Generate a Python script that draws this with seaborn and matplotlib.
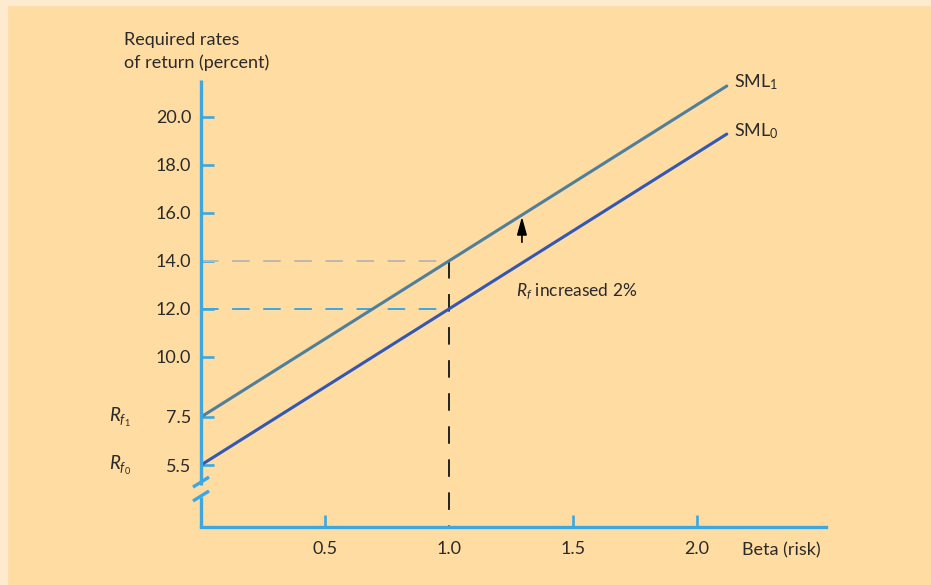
import numpy as np
import pandas as pd
import matplotlib
matplotlib.use("Agg")
import matplotlib.pyplot as plt
from matplotlib.patches import Rectangle
import seaborn as sns

# Security market line data
beta_points = [0.0, 1.0, 2.12]
sml0_values = [5.5, 12.0, 19.28]   # original risk-free rate 5.5%
sml1_values = [7.5, 14.0, 21.28]   # risk-free rate raised to 7.5%
y_ticks = [5.5, 7.5, 10.0, 12.0, 14.0, 16.0, 18.0, 20.0]
x_ticks = [0.5, 1.0, 1.5, 2.0]
reference_beta = 1.0
required_old = 12.0
required_new = 14.0

sns.set_theme(style="white")
FONT = "Lato"
plt.rcParams["font.family"] = [FONT, "DejaVu Sans"]
plt.rcParams["mathtext.fontset"] = "custom"
plt.rcParams["mathtext.rm"] = FONT
plt.rcParams["mathtext.it"] = FONT + ":italic"

BG = "#FEDCA2"
BLUE = "#3DA7E1"
TEXT = "#2a2a2a"
C_SML0 = "#3457B3"
C_SML1 = "#4F7F9C"
FS = 13

W, H = 931, 585
fig = plt.figure(figsize=(W / 100, H / 100), dpi=100, facecolor=BG)
fig.patches.append(Rectangle((0, 1 - 5 / H), 1, 5 / H, transform=fig.transFigure,
                             color="#FEEBCF", zorder=0))
fig.patches.append(Rectangle((0, 0), 7 / W, 1, transform=fig.transFigure,
                             color="#FEEBCF", zorder=0))

ax = fig.add_axes([201 / W, 58 / H, 625 / W, 447 / H])
ax.set_facecolor(BG)

ymin, ymax = 2.92, 21.53
ax.set_xlim(0, 2.52)
ax.set_ylim(ymin, ymax)

df = pd.DataFrame({"beta": beta_points, "sml0": sml0_values, "sml1": sml1_values})
sns.lineplot(data=df, x="beta", y="sml1", ax=ax, color=C_SML1, linewidth=2.2)
sns.lineplot(data=df, x="beta", y="sml0", ax=ax, color=C_SML0, linewidth=2.2)
ax.set_xlabel("")
ax.set_ylabel("")

# Reference guides at beta = 1
ax.plot([0, reference_beta], [required_new, required_new], color="#BDB8AE",
        linewidth=1.4, dashes=(9, 7), zorder=1)
ax.plot([0, reference_beta], [required_old, required_old], color=BLUE,
        linewidth=1.4, dashes=(9, 7), zorder=1)
ax.plot([reference_beta, reference_beta], [required_new, ymin], color="#222222",
        linewidth=1.4, dashes=(9, 8), zorder=1)

# Spines
for s in ["top", "right", "left"]:
    ax.spines[s].set_visible(False)
ax.spines["bottom"].set_color(BLUE)
ax.spines["bottom"].set_linewidth(2.4)

# Broken y axis
lw_axis = 2.4
ax.plot([0, 0], [4.67, ymax], color=BLUE, linewidth=lw_axis, clip_on=False,
        solid_capstyle="butt", zorder=3)
ax.plot([0, 0], [ymin, 4.17], color=BLUE, linewidth=lw_axis, clip_on=False,
        solid_capstyle="butt", zorder=3)
dx, dy = 8 / 248, 5 / 24.02
for yc in (4.79, 4.21):
    ax.plot([-dx, dx], [yc - dy, yc + dy], color=BLUE, linewidth=lw_axis,
            clip_on=False, solid_capstyle="butt", zorder=3)

# Ticks
ax.set_yticks(y_ticks)
ax.set_yticklabels([f"{v:.1f}" for v in y_ticks])
ax.set_xticks(x_ticks)
ax.set_xticklabels([f"{v:.1f}" for v in x_ticks])
ax.tick_params(axis="y", direction="in", length=9.5, width=1.9, color=BLUE,
               pad=7, labelsize=FS, labelcolor=TEXT, left=True)
ax.tick_params(axis="x", direction="in", length=9, width=1.9, color=BLUE,
               pad=10, labelsize=FS, labelcolor=TEXT, bottom=True)
ax.xaxis.get_major_ticks()[1].tick1line.set_visible(False)
ax.grid(False)

# Labels
fig.text(124 / W, 1 - 32 / H, "Required rates\nof return (percent)", ha="left",
         va="top", fontsize=FS, color=TEXT, linespacing=1.45)
fig.text(742 / W, 1 - 550 / H, "Beta (risk)", ha="left", va="center",
         fontsize=FS, color=TEXT)

ax.text(2.15, 21.45, r"SML$_\mathregular{1}$", fontsize=FS, color=TEXT,
        ha="left", va="center")
ax.text(2.15, 19.4, r"SML$_\mathregular{0}$", fontsize=FS, color=TEXT,
        ha="left", va="center")

ax.text(-0.37, 7.5, r"$R_{f_1}$", fontsize=13.5, color=TEXT, ha="left",
        va="center", clip_on=False)
ax.text(-0.37, 5.5, r"$R_{f_0}$", fontsize=13.5, color=TEXT, ha="left",
        va="center", clip_on=False)

ax.annotate("", xy=(1.294, 15.95), xytext=(1.294, 14.66),
            arrowprops=dict(arrowstyle="-|>,head_length=0.9,head_width=0.25",
                            color="black", linewidth=1.2))
ax.text(1.27, 12.7, r"$R_f$ increased 2%", fontsize=12.5, color=TEXT,
        ha="left", va="center")

fig.savefig("out.png", dpi=100, facecolor=BG)
